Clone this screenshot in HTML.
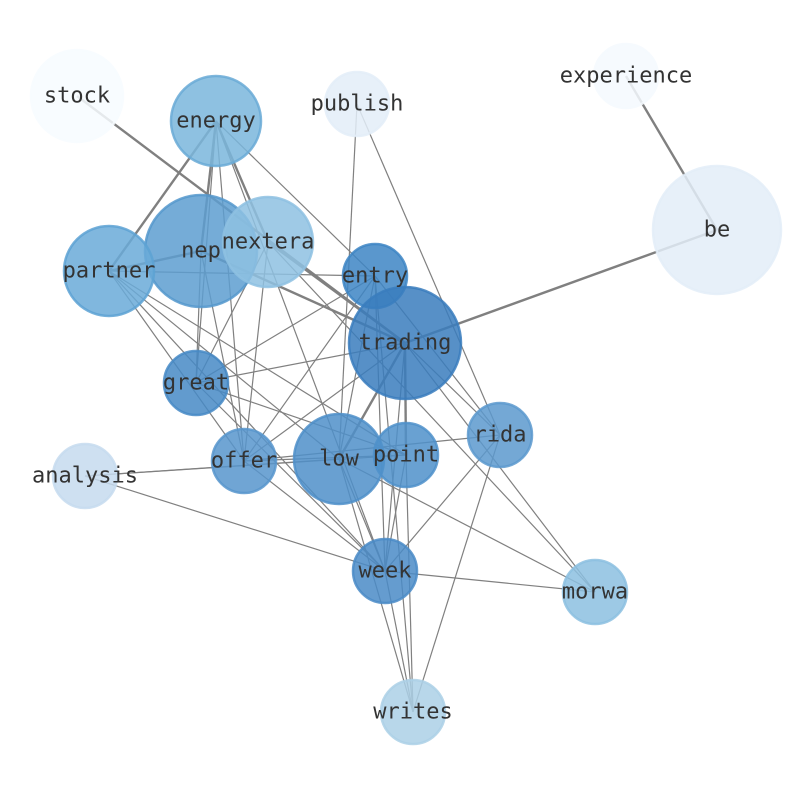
<!DOCTYPE html>
<html><head><meta charset="utf-8"><style>
html,body{margin:0;padding:0;background:#fff;}
svg{display:block;}
text{font-family:"DejaVu Sans Mono","Liberation Mono",monospace;font-size:22px;fill:#333;text-anchor:middle;dominant-baseline:central;}
</style></head><body>
<svg width="794" height="790" viewBox="0 0 794 790" xmlns="http://www.w3.org/2000/svg">
<g stroke="#808080" stroke-width="1.2" fill="none">
<line x1="216" y1="121" x2="375" y2="276"/>
<line x1="216" y1="121" x2="196" y2="383"/>
<line x1="216" y1="121" x2="244" y2="461"/>
<line x1="216" y1="121" x2="385" y2="571"/>
<line x1="357" y1="104" x2="339" y2="459"/>
<line x1="357" y1="104" x2="500" y2="435"/>
<line x1="109" y1="271" x2="375" y2="276"/>
<line x1="109" y1="271" x2="244" y2="461"/>
<line x1="109" y1="271" x2="385" y2="571"/>
<line x1="109" y1="271" x2="406" y2="455"/>
<line x1="109" y1="271" x2="339" y2="459"/>
<line x1="201" y1="251" x2="196" y2="383"/>
<line x1="201" y1="251" x2="244" y2="461"/>
<line x1="268" y1="242" x2="244" y2="461"/>
<line x1="268" y1="242" x2="196" y2="383"/>
<line x1="268" y1="242" x2="595" y2="592"/>
<line x1="375" y1="276" x2="196" y2="383"/>
<line x1="375" y1="276" x2="339" y2="459"/>
<line x1="375" y1="276" x2="244" y2="461"/>
<line x1="375" y1="276" x2="385" y2="571"/>
<line x1="375" y1="276" x2="413" y2="712"/>
<line x1="375" y1="276" x2="500" y2="435"/>
<line x1="405" y1="343" x2="196" y2="383"/>
<line x1="405" y1="343" x2="500" y2="435"/>
<line x1="405" y1="343" x2="595" y2="592"/>
<line x1="405" y1="343" x2="385" y2="571"/>
<line x1="405" y1="343" x2="244" y2="461"/>
<line x1="196" y1="383" x2="406" y2="455"/>
<line x1="196" y1="383" x2="385" y2="571"/>
<line x1="85" y1="476" x2="406" y2="455"/>
<line x1="85" y1="476" x2="339" y2="459"/>
<line x1="85" y1="476" x2="385" y2="571"/>
<line x1="244" y1="461" x2="500" y2="435"/>
<line x1="244" y1="461" x2="385" y2="571"/>
<line x1="244" y1="461" x2="406" y2="455"/>
<line x1="339" y1="459" x2="385" y2="571"/>
<line x1="339" y1="459" x2="595" y2="592"/>
<line x1="339" y1="459" x2="413" y2="712"/>
<line x1="406" y1="455" x2="385" y2="571"/>
<line x1="406" y1="455" x2="413" y2="712"/>
<line x1="500" y1="435" x2="385" y2="571"/>
<line x1="500" y1="435" x2="413" y2="712"/>
<line x1="385" y1="571" x2="595" y2="592"/>
<line x1="385" y1="571" x2="413" y2="712"/>
</g>
<g stroke="#808080" stroke-width="2.4" fill="none">
<line x1="77" y1="96" x2="405" y2="343"/>
<line x1="626" y1="76" x2="717" y2="230"/>
<line x1="717" y1="230" x2="405" y2="343"/>
<line x1="216" y1="121" x2="109" y2="271"/>
<line x1="216" y1="121" x2="201" y2="251"/>
<line x1="216" y1="121" x2="268" y2="242"/>
<line x1="268" y1="242" x2="405" y2="343"/>
<line x1="109" y1="271" x2="201" y2="251"/>
<line x1="201" y1="251" x2="405" y2="343"/>
<line x1="405" y1="343" x2="339" y2="459"/>
<line x1="405" y1="343" x2="406" y2="455"/>
</g>
<g stroke-width="2.5" fill-opacity="0.85" stroke-opacity="0.85">
<circle cx="77" cy="96" r="46" fill="#f7fbff" stroke="#f7fbff"/>
<circle cx="626" cy="76" r="32" fill="#f5f9fe" stroke="#f5f9fe"/>
<circle cx="357" cy="104" r="32" fill="#e3edf8" stroke="#e3edf8"/>
<circle cx="717" cy="230" r="64" fill="#e3edf8" stroke="#e3edf8"/>
<circle cx="216" cy="121" r="45" fill="#7ab6dc" stroke="#6aaad6"/>
<circle cx="201" cy="251" r="56" fill="#5d9dd0" stroke="#5598cd"/>
<circle cx="268" cy="242" r="45" fill="#8ec1e2" stroke="#8ec1e2"/>
<circle cx="109" cy="271" r="45" fill="#6aaad8" stroke="#5da2d3"/>
<circle cx="375" cy="276" r="32" fill="#3d85c4" stroke="#3d85c4"/>
<circle cx="405" cy="343" r="56" fill="#3a7cbd" stroke="#3a7cbd"/>
<circle cx="196" cy="383" r="32" fill="#4689c6" stroke="#4689c6"/>
<circle cx="85" cy="476" r="32" fill="#c6dbef" stroke="#c6dbef"/>
<circle cx="244" cy="461" r="32" fill="#5795cc" stroke="#5795cc"/>
<circle cx="339" cy="459" r="45" fill="#4f8fc9" stroke="#4f8fc9"/>
<circle cx="406" cy="455" r="32" fill="#4f91ca" stroke="#4f91ca"/>
<circle cx="500" cy="435" r="32" fill="#5c99ce" stroke="#5c99ce"/>
<circle cx="385" cy="571" r="32" fill="#4a8bc7" stroke="#4a8bc7"/>
<circle cx="595" cy="592" r="32" fill="#8cc0e1" stroke="#8cc0e1"/>
<circle cx="413" cy="712" r="32" fill="#abd0e6" stroke="#abd0e6"/>
</g>
<g>
<text x="77" y="96">stock</text>
<text x="626" y="76">experience</text>
<text x="357" y="104">publish</text>
<text x="717" y="230">be</text>
<text x="216" y="121">energy</text>
<text x="201" y="251">nep</text>
<text x="268" y="242">nextera</text>
<text x="109" y="271">partner</text>
<text x="375" y="276">entry</text>
<text x="405" y="343">trading</text>
<text x="196" y="383">great</text>
<text x="85" y="476">analysis</text>
<text x="244" y="461">offer</text>
<text x="339" y="459">low</text>
<text x="406" y="455">point</text>
<text x="500" y="435">rida</text>
<text x="385" y="571">week</text>
<text x="595" y="592">morwa</text>
<text x="413" y="712">writes</text>
</g>
</svg>
</body></html>
